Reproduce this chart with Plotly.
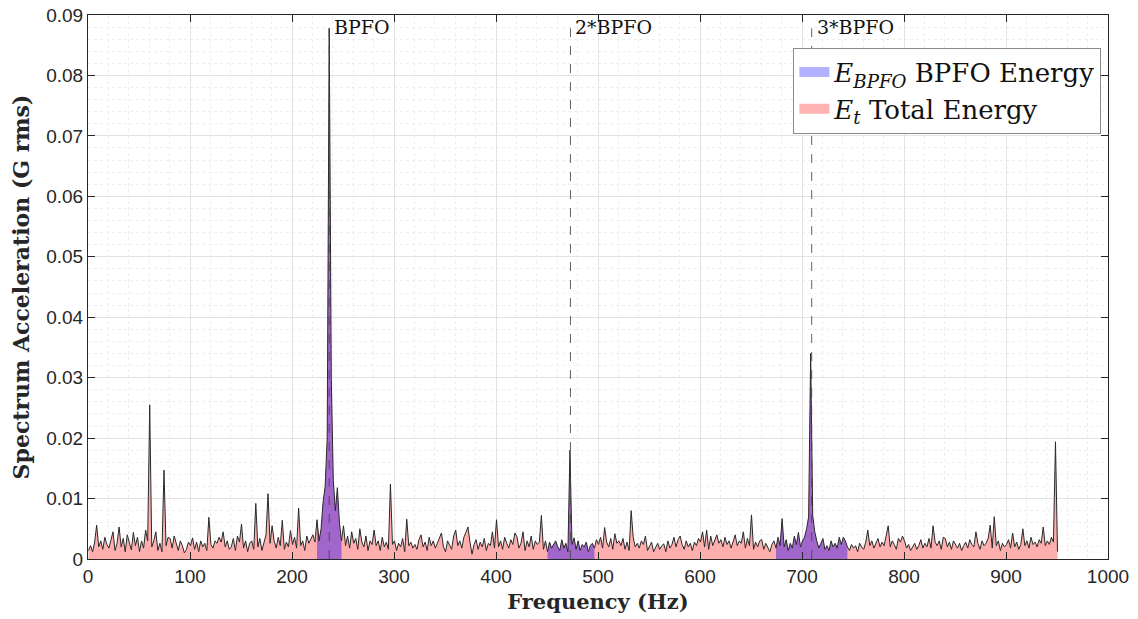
import numpy as np
import plotly.graph_objects as go

# Frequency grid (Hz) and spectrum amplitudes (units of 1e-4 G rms)
freq_start, freq_step = 0.5, 2.0
amp_e4 = [
    14, 22, 12, 28, 56, 20, 30, 16, 36, 24,
    18, 32, 45, 14, 26, 53, 20, 34, 12, 40,
    26, 15, 44, 22, 36, 12, 30, 18, 48, 30,
    255, 20, 30, 45, 14, 26, 12, 147, 22, 36,
    34, 18, 38, 26, 14, 30, 22, 10, 16, 28,
    22, 35, 16, 28, 12, 30, 20, 26, 14, 69,
    24, 18, 30, 26, 36, 28, 45, 20, 30, 16,
    20, 34, 14, 38, 28, 58, 18, 30, 12, 26,
    30, 16, 92, 20, 34, 14, 28, 40, 108, 26,
    55, 30, 18, 36, 22, 64, 16, 28, 20, 47,
    24, 36, 18, 84, 22, 30, 14, 38, 26, 32,
    40, 28, 65, 30, 50, 95, 120, 200, 878, 300,
    130, 80, 118, 60, 30, 55, 22, 38, 18, 45,
    26, 34, 16, 50, 28, 20, 38, 14, 30, 24,
    48, 22, 30, 14, 36, 20, 28, 16, 124, 24,
    30, 14, 26, 20, 34, 12, 66, 22, 28, 18,
    24, 16, 32, 40, 20, 28, 14, 36, 22, 30,
    18, 26, 34, 43, 20, 12, 30, 24, 16, 38,
    48, 22, 30, 18, 36, 44, 53, 28, 8, 24,
    32, 16, 28, 20, 34, 14, 26, 22, 45, 18,
    65, 20, 30, 16, 36, 26, 18, 32, 24, 43,
    37, 18, 26, 45, 14, 30, 20, 38, 16, 30,
    24, 28, 72, 16, 30, 12, 28, 18, 24, 30,
    20, 14, 32, 18, 26, 12, 180, 24, 35, 16,
    30, 14, 24, 20, 28, 12, 22, 26, 18, 32,
    24, 36, 18, 52, 28, 20, 34, 16, 42, 26,
    30, 22, 34, 16, 28, 14, 80, 36, 20, 26,
    18, 30, 24, 38, 14, 22, 28, 12, 20, 26,
    16, 22, 25, 12, 30, 18, 24, 36, 20, 32,
    38, 24, 16, 30, 20, 26, 14, 28, 22, 34,
    28, 45, 20, 48, 16, 38, 22, 30, 40, 26,
    32, 20, 36, 24, 30, 18, 28, 40, 22, 30,
    26, 45, 18, 34, 22, 73, 16, 28, 20, 30,
    32, 16, 26, 20, 12, 24, 30, 18, 36, 22,
    67, 20, 32, 14, 26, 18, 38, 24, 44, 20,
    30, 36, 50, 70, 340, 72, 45, 30, 18, 26,
    34, 16, 22, 14, 30, 20, 26, 18, 36, 24,
    36, 30, 20, 14, 24, 18, 22, 12, 26, 20,
    16, 28, 48, 22, 30, 18, 26, 34, 20, 28,
    22, 36, 55, 20, 30, 24, 16, 34, 28, 38,
    30, 18, 24, 14, 20, 26, 16, 22, 32, 18,
    26, 20, 34, 18, 55, 28, 22, 30, 16, 36,
    34, 20, 28, 16, 30, 24, 18, 26, 14, 22,
    28, 18, 32, 24, 20, 45, 26, 16, 30, 22,
    26, 34, 56, 18, 70, 22, 30, 14, 26, 20,
    24, 32, 18, 43, 20, 28, 16, 24, 50, 22,
    30, 18, 36, 24, 28, 20, 32, 26, 53, 22,
    30, 24, 36, 28, 194, 12,
]
bpfo = 236.5
harmonics = [1, 2, 3]
harmonic_labels = ["BPFO", "2*BPFO", "3*BPFO"]
band_half_width = 12.0  # Hz per harmonic order

freq = freq_start + freq_step * np.arange(len(amp_e4))
amp = np.array(amp_e4) / 1e4

fig = go.Figure()

pink = "rgb(255,174,174)"
purple = "rgb(160,102,204)"

fig.add_trace(go.Scatter(x=freq, y=amp, fill="tozeroy", fillcolor=pink,
                         mode="lines", line=dict(width=0), showlegend=False,
                         hoverinfo="skip"))
for k in harmonics:
    c = k * bpfo
    hw = k * band_half_width
    m = (freq >= c - hw) & (freq <= c + hw)
    fig.add_trace(go.Scatter(x=freq[m], y=amp[m], fill="tozeroy", fillcolor=purple,
                             mode="lines", line=dict(width=0), showlegend=False,
                             hoverinfo="skip"))

fig.add_trace(go.Scatter(x=freq, y=amp, mode="lines",
                         line=dict(color="#2a2a2a", width=1), showlegend=False))

# legend entries (patch-like thick lines)
fig.add_trace(go.Scatter(x=[None], y=[None], mode="lines",
                         line=dict(color="rgb(178,178,255)", width=13),
                         name="<i>E</i><sub><i>BPFO</i></sub> BPFO Energy"))
fig.add_trace(go.Scatter(x=[None], y=[None], mode="lines",
                         line=dict(color="rgb(255,178,178)", width=13),
                         name="<i>E</i><sub><i>t</i></sub> Total Energy"))

line_top = 0.0878
for k, lab in zip(harmonics, harmonic_labels):
    fig.add_shape(type="line", x0=k * bpfo, x1=k * bpfo, y0=0, y1=line_top,
                  xref="x", yref="y", line=dict(color="rgba(70,70,70,0.85)", width=1, dash="dash"))
    fig.add_annotation(x=k * bpfo, y=0.0880, xref="x", yref="y", text=lab,
                       showarrow=False, xanchor="left", yanchor="middle", xshift=3,
                       font=dict(family="DejaVu Serif", size=19, color="#111"))

axis_common = dict(
    showline=True, linecolor="#262626", linewidth=1, mirror="ticks",
    ticks="inside", ticklen=7, tickcolor="#262626",
    showgrid=True, gridcolor="#e2e2e2", gridwidth=1,
    zeroline=False, automargin=False,
    tickfont=dict(family="Liberation Sans", size=19, color="#262626"),
)

fig.update_xaxes(range=[0, 1000], dtick=100, tick0=0,
                 minor=dict(dtick=20, showgrid=True, gridcolor="#eeeeee", griddash="dot", ticks=""),
                 title=dict(text="<b>Frequency (Hz)</b>", standoff=8,
                            font=dict(family="DejaVu Serif", size=21, color="#262626")),
                 **axis_common)
fig.update_yaxes(range=[0, 0.09], dtick=0.01, tick0=0,
                 minor=dict(dtick=0.002, showgrid=True, gridcolor="#eeeeee", griddash="dot", ticks=""),
                 title=dict(text="<b>Spectrum Acceleration (G rms)</b>", standoff=10,
                            font=dict(family="DejaVu Serif", size=22, color="#262626")),
                 **axis_common)

fig.update_layout(
    width=1138, height=619,
    margin=dict(l=88, r=30, t=15, b=60),
    paper_bgcolor="white", plot_bgcolor="white",
    legend=dict(x=0.9935, xanchor="right", y=0.94, yanchor="top",
                bgcolor="white", bordercolor="#8a8a8a", borderwidth=1,
                font=dict(family="DejaVu Serif", size=26, color="#111"),
                tracegroupgap=0, itemwidth=30),
)

fig.write_html("out.html")
